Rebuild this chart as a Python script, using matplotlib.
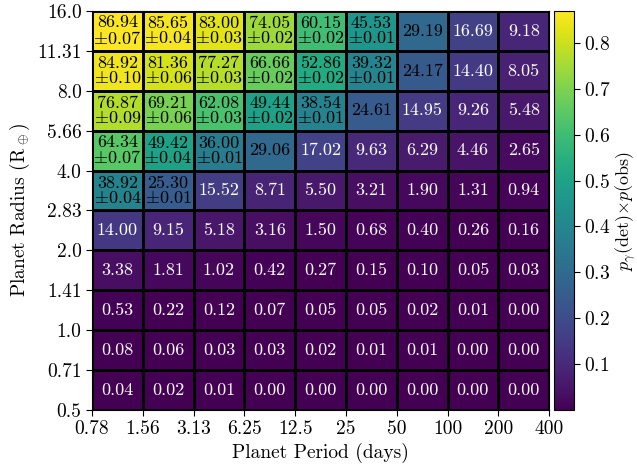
import numpy as np
import matplotlib
matplotlib.use("Agg")
import matplotlib.pyplot as plt

plt.rcParams['font.family'] = ['cmr10']
plt.rcParams['mathtext.fontset'] = 'cm'
plt.rcParams['axes.formatter.use_mathtext'] = True

# bin edges
period_edges = [0.78125, 1.5625, 3.125, 6.25, 12.5, 25, 50, 100, 200, 400]
period_labels = ["0.78", "1.56", "3.13", "6.25", "12.5", "25", "50", "100", "200", "400"]
radius_edges = [0.5, 0.7071, 1.0, 1.4142, 2.0, 2.8284, 4.0, 5.6569, 8.0, 11.3137, 16.0]
radius_labels = ["0.5", "0.71", "1.0", "1.41", "2.0", "2.83", "4.0", "5.66", "8.0", "11.31", "16.0"]

# values in percent, rows from smallest radius to largest
values = [
    [0.04, 0.02, 0.01, 0.00, 0.00, 0.00, 0.00, 0.00, 0.00],
    [0.08, 0.06, 0.03, 0.03, 0.02, 0.01, 0.01, 0.00, 0.00],
    [0.53, 0.22, 0.12, 0.07, 0.05, 0.05, 0.02, 0.01, 0.00],
    [3.38, 1.81, 1.02, 0.42, 0.27, 0.15, 0.10, 0.05, 0.03],
    [14.00, 9.15, 5.18, 3.16, 1.50, 0.68, 0.40, 0.26, 0.16],
    [38.92, 25.30, 15.52, 8.71, 5.50, 3.21, 1.90, 1.31, 0.94],
    [64.34, 49.42, 36.00, 29.06, 17.02, 9.63, 6.29, 4.46, 2.65],
    [76.87, 69.21, 62.08, 49.44, 38.54, 24.61, 14.95, 9.26, 5.48],
    [84.92, 81.36, 77.27, 66.66, 52.86, 39.32, 24.17, 14.40, 8.05],
    [86.94, 85.65, 83.00, 74.05, 60.15, 45.53, 29.19, 16.69, 9.18],
]
# uncertainties (None = not shown)
errors = [
    [None] * 9,
    [None] * 9,
    [None] * 9,
    [None] * 9,
    [None] * 9,
    [0.04, 0.01, None, None, None, None, None, None, None],
    [0.07, 0.04, 0.01, None, None, None, None, None, None],
    [0.09, 0.06, 0.03, 0.02, 0.01, None, None, None, None],
    [0.10, 0.06, 0.03, 0.02, 0.02, 0.01, None, None, None],
    [0.07, 0.04, 0.03, 0.02, 0.02, 0.01, None, None, None],
]

Z = np.array(values) / 100.0

fig = plt.figure(figsize=(6.37, 4.70), dpi=100)
ax = fig.add_axes([0.1444, 0.1277, 0.7176, 0.8489])
cax = fig.add_axes([0.8697, 0.1277, 0.0314, 0.8489])

mesh = ax.pcolormesh(period_edges, radius_edges, Z, cmap='viridis',
                     vmin=0, vmax=Z.max(), edgecolors='k', linewidth=2)
ax.set_xscale('log', base=2)
ax.set_yscale('log', base=2)
ax.set_xlim(period_edges[0], period_edges[-1])
ax.set_ylim(radius_edges[0], radius_edges[-1])
ax.set_xticks(period_edges)
ax.set_xticklabels(period_labels)
ax.set_yticks(radius_edges)
ax.set_yticklabels(radius_labels)
ax.minorticks_off()
ax.tick_params(labelsize=14, length=4)

for i in range(len(radius_edges) - 1):
    yc = np.sqrt(radius_edges[i] * radius_edges[i + 1])
    for j in range(len(period_edges) - 1):
        xc = np.sqrt(period_edges[j] * period_edges[j + 1])
        v = values[i][j]
        col = 'black' if Z[i, j] > 0.2 else 'white'
        e = errors[i][j]
        if e is None:
            txt = "%.2f" % v
        else:
            txt = "%.2f\n$\\pm$%.2f" % (v, e)
        ax.text(xc, yc, txt, ha='center', va='center', color=col,
                fontsize=13, linespacing=0.95)

ax.set_xlabel("Planet Period (days)", fontsize=14, labelpad=3)
ax.set_ylabel("Planet Radius (R$_\\oplus$)", fontsize=14)

cb = fig.colorbar(mesh, cax=cax)
cb.set_ticks([0.1, 0.2, 0.3, 0.4, 0.5, 0.6, 0.7, 0.8])
cb.ax.tick_params(labelsize=14, length=4)
cb.set_label("$p_\\gamma$(det)$\\times p$(obs)", fontsize=13, labelpad=2)

fig.savefig("out.png", dpi=100)
